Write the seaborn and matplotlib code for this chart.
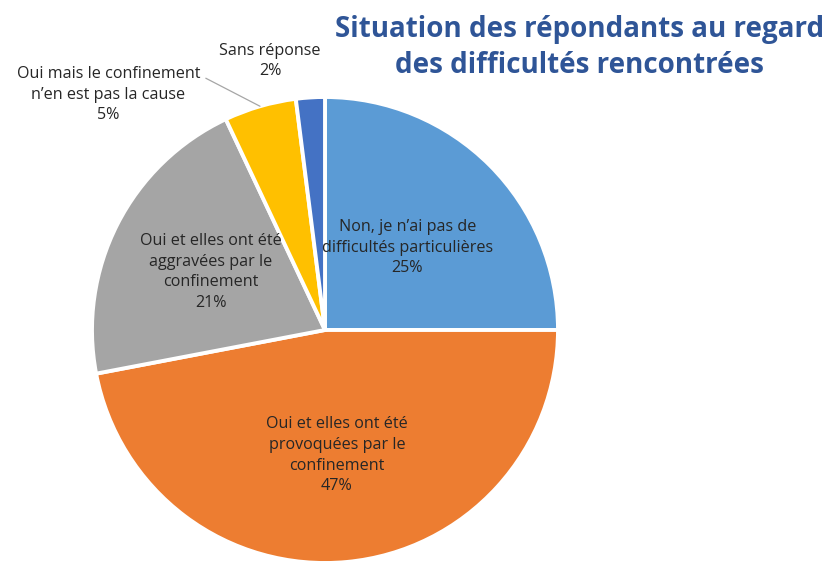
import numpy as np
import matplotlib.pyplot as plt
import seaborn as sns

# donnees
categories = [
    "Non, je n\u2019ai pas de\ndifficultés particulières",
    "Oui et elles ont été\nprovoquées par le\nconfinement",
    "Oui et elles ont été\naggravées par le\nconfinement",
    "Oui mais le confinement\nn\u2019en est pas la cause",
    "Sans réponse",
]
values = [25, 47, 21, 5, 2]
colors = ["#5B9BD5", "#ED7D31", "#A5A5A5", "#FFC000", "#4472C4"]
titre = "Situation des répondants au regard\ndes difficultés rencontrées"

sns.set_theme(style="white")
plt.rcParams["font.family"] = ["Open Sans", "DejaVu Sans"]

fig = plt.figure(figsize=(8.32, 5.63), dpi=100)
ax = fig.add_axes([92 / 832, 0.0, 466 / 832, 466 / 563])

wedges, _ = ax.pie(values, colors=colors, startangle=90, counterclock=False,
                   wedgeprops=dict(edgecolor="white", linewidth=2.8))
ax.set_xlim(-1, 1)
ax.set_ylim(-1, 1)
ax.set_aspect("equal")
ax.axis("off")

fs = 11.6
txt = dict(fontsize=fs, color="#262626", linespacing=1.38, ha="center", va="center")

# etiquettes a l'interieur
inside = {0: 0.50, 1: 0.54, 2: 0.55}
for i, d in inside.items():
    w = wedges[i]
    ang = np.deg2rad((w.theta1 + w.theta2) / 2)
    ax.text(d * np.cos(ang), d * np.sin(ang), f"{categories[i]}\n{values[i]}%", **txt)

# etiquettes a l'exterieur
w = wedges[3]
ang = np.deg2rad((w.theta1 + w.theta2) / 2)
ax.annotate(f"{categories[3]}\n{values[3]}%", xy=(np.cos(ang), np.sin(ang)),
            xytext=(-0.93, 1.01), annotation_clip=False,
            arrowprops=dict(arrowstyle="-", color="#A6A6A6", lw=0.9,
                            relpos=(1.0, 0.84), shrinkA=2, shrinkB=0),
            **txt)
ax.text(-0.236, 1.155, f"{categories[4]}\n{values[4]}%", clip_on=False, **txt)

fig.text(0.696, 0.974, titre, ha="center", va="top", fontsize=20,
         fontweight="bold", color="#2F5597", linespacing=1.32)

fig.savefig("out.png", dpi=100, facecolor="white")
